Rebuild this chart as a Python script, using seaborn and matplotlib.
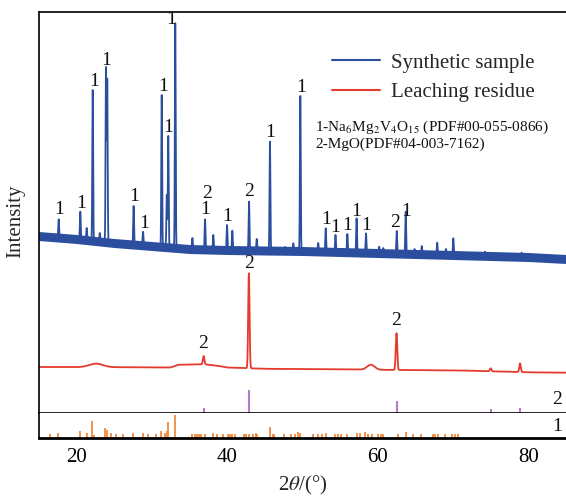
import numpy as np
import pandas as pd
import matplotlib
matplotlib.use("Agg")
import matplotlib.pyplot as plt
import seaborn as sns

# ---------------- data (intensity in arbitrary units) ----------------
blue_base_x = [15, 20, 25, 30, 35, 40, 50, 60, 70, 80, 85]
blue_base_y = [177.3, 174.3, 170.3, 167.3, 164.3, 163.3, 162.3, 160.3, 158.3, 156.3, 154.3]
blue_noise_halfwidth = 4.5

blue_peak_pos = [17.65, 20.52, 21.37, 22.17, 23.1, 23.93, 24.1, 27.6, 28.85, 31.33, 32.0, 32.2,
                 33.13, 35.4, 37.08, 38.18, 40.0, 40.7, 42.92, 43.94, 45.7, 47.7, 48.8, 49.73,
                 52.1, 53.1, 54.4, 55.97, 57.2, 58.45, 60.2, 60.75, 62.53, 63.72, 64.9, 65.85,
                 67.9, 69.07, 70.04, 74.25, 79.1, 82.9]
blue_peak_top = [194.0, 201.6, 185.3, 323.3, 180.3, 345.0, 333.3, 207.3, 181.6, 318.3, 218.3, 277.3,
                 390.0, 175.3, 194.0, 178.3, 188.3, 182.6, 211.6, 174.3, 271.6, 166.3, 170.0, 317.3,
                 170.3, 185.0, 178.3, 179.3, 195.0, 180.0, 166.6, 165.3, 182.3, 201.6, 164.3, 167.3,
                 170.6, 164.3, 175.0, 161.6, 160.6, 157.3]

red_base_x = [15, 30, 32.5, 33.5, 37, 38.8, 40, 45, 50, 55, 60, 70, 80, 85]
red_base_y = [46.3, 46.0, 45.8, 48.5, 49.0, 47.5, 45.8, 44.5, 44.3, 44.0, 43.5, 43.0, 41.0, 40.6]
red_peak_pos = [22.6, 36.9, 42.9, 59.1, 62.5, 75.0, 78.9]
red_peak_amp = [3.5, 8.3, 95.0, 5.0, 36.7, 3.0, 8.7]
red_peak_wid = [0.9, 0.1, 0.09, 0.5, 0.1, 0.1, 0.1]

mgo_pos = [36.9, 42.9, 62.5, 75.0, 78.9]
mgo_int = [5.6, 23.0, 12.3, 4.3, 5.6]

nmvo_pos = [16.5, 17.6, 20.44, 21.37, 22.1, 22.35, 23.85, 24.1, 24.6, 25.26, 26.15, 27.52, 28.8,
            29.47, 30.57, 31.19, 31.8, 32.0, 32.2, 33.05, 35.3, 35.8, 36.0, 36.3, 36.55, 37.08,
            38.1, 38.7, 39.42, 40.1, 40.4, 40.7, 41.0, 42.2, 42.5, 42.95, 43.4, 43.85, 44.0,
            45.66, 46.1, 46.3, 47.6, 48.55, 49.0, 49.4, 49.75, 51.45, 52.1, 52.57, 53.14, 54.3,
            54.7, 55.1, 55.9, 57.2, 57.6, 58.3, 58.75, 59.2, 60.1, 60.4, 60.75, 62.7, 63.75,
            64.7, 65.7, 67.4, 67.6, 68.0, 69.0, 69.8, 70.3, 70.7]
nmvo_int = [3.3, 4.3, 6.7, 4.3, 17.0, 2.7, 9.3, 8.0, 4.3, 3.3, 3.3, 4.3, 4.3,
            3.3, 3.3, 6.7, 4.3, 6.7, 15.3, 22.7, 3.3, 3.3, 3.3, 3.3, 3.3, 3.3,
            4.3, 3.3, 3.3, 3.3, 3.3, 3.3, 3.3, 3.3, 3.3, 3.3, 3.3, 4.3, 3.3,
            10.3, 3.3, 3.3, 3.3, 3.3, 3.3, 6.0, 4.3, 3.3, 3.3, 3.3, 4.3, 3.3,
            3.3, 3.3, 3.3, 4.3, 4.3, 6.0, 3.3, 3.3, 3.3, 3.3, 3.3, 3.3, 5.3,
            3.3, 3.3, 3.3, 3.3, 3.3, 3.3, 3.3, 3.3, 3.3]

# peak labels (2theta, height, text)
label_x = [17.7, 20.7, 22.4, 23.9, 27.7, 29.0, 31.5, 32.2, 32.55, 37.3, 37.1, 40.0, 42.95,
           45.7, 49.8, 53.1, 54.4, 56.0, 57.2, 58.45, 62.3, 63.75, 36.85, 42.9, 62.5]
label_y = [203.3, 210.3, 331.6, 352.6, 216.6, 190.0, 326.6, 286.0, 394.0, 220.0, 203.3, 196.6,
           221.6, 280.6, 326.0, 193.3, 186.0, 187.3, 201.6, 187.3, 190.6, 201.6, 69.3, 149.3, 92.6]
label_t = ["1", "1", "1", "1", "1", "1", "1", "1", "1", "2", "1", "1", "2",
           "1", "1", "1", "1", "1", "1", "1", "2", "1", "2", "2", "2"]

series_names = ["Synthetic sample", "Leaching residue"]
phase_notes = [r"1-Na$_6$Mg$_2$V$_4$O$_{15}$ (PDF#00-055-0866)", "2-MgO(PDF#04-003-7162)"]
x_ticks = [20, 40, 60, 80]

# ---------------- styling ----------------
sns.set_theme(style="white")
plt.rcParams["font.family"] = ["Liberation Serif", "DejaVu Serif"]
plt.rcParams["mathtext.fontset"] = "stix"

BLUE = "#2b4f9e"
RED = "#e33b2e"
PURPLE = "#b37cc4"
ORANGE = "#f28a3c"

W, H = 566, 500
fig = plt.figure(figsize=(W / 100, H / 100), dpi=100)
left = 38.7 / W
ax_top = fig.add_axes([left, (H - 413.3) / H, 1 - left, (413.3 - 11.7) / H])
ax_bot = fig.add_axes([left, (H - 437.7) / H, 1 - left, (437.7 - 413.3) / H], sharex=ax_top)

# ---------------- traces ----------------
grid = np.arange(15.0, 85.0001, 0.01)


def profile(base_x, base_y, pos, amp, wid):
    y = np.interp(grid, base_x, base_y)
    for p, a, w in zip(pos, amp, wid):
        y = y + a * np.exp(-0.5 * ((grid - p) / w) ** 2)
    return y


blue_amp = [t - np.interp(p, blue_base_x, blue_base_y) for p, t in zip(blue_peak_pos, blue_peak_top)]
blue_y = profile(blue_base_x, blue_base_y, blue_peak_pos, blue_amp, [0.055] * len(blue_peak_pos))
red_y = profile(red_base_x, red_base_y, red_peak_pos, red_peak_amp, red_peak_wid)

df = pd.concat([
    pd.DataFrame({"2theta": grid, "I": blue_y, "sample": series_names[0]}),
    pd.DataFrame({"2theta": grid, "I": red_y, "sample": series_names[1]}),
])

base_arr = np.array(blue_base_y)
ax_top.fill_between(blue_base_x, base_arr - blue_noise_halfwidth, base_arr + blue_noise_halfwidth,
                    color=BLUE, lw=0)
sns.lineplot(data=df, x="2theta", y="I", hue="sample", palette=[BLUE, RED], ax=ax_top,
             lw=1.3, estimator=None, sort=False)

ax_top.vlines(mgo_pos, 0, mgo_int, color=PURPLE, lw=1.5)
ax_bot.vlines(nmvo_pos, 0, nmvo_int, color=ORANGE, lw=1.3)

for x, y, t in zip(label_x, label_y, label_t):
    ax_top.text(x, y, t, ha="center", va="center", fontsize=14, color="#111111")

ax_top.text(83.76, 13.3, "2", ha="center", va="center", fontsize=14, color="#111111")
ax_bot.text(83.76, 11.0, "1", ha="center", va="center", fontsize=14, color="#111111")

ax_top.text(51.68, 286.3, phase_notes[0], ha="left", va="center", fontsize=11, color="#111111")
ax_top.text(51.68, 269.3, phase_notes[1], ha="left", va="center", fontsize=11, color="#111111")

# ---------------- axes ----------------
ax_top.set_xlim(15, 85)
ax_top.set_ylim(0, 413.3 - 11.7)
ax_bot.set_ylim(0, 437.7 - 413.3)

for a in (ax_top, ax_bot):
    a.set_facecolor("white")
    a.set_ylabel("")
    a.set_yticks([])
    a.spines["right"].set_visible(False)
    for s in a.spines.values():
        s.set_color("black")
        s.set_linewidth(1.2)
ax_bot.spines["top"].set_visible(False)
ax_bot.spines["bottom"].set_linewidth(2.0)

ax_top.tick_params(axis="x", bottom=False, labelbottom=False)
ax_top.set_xlabel("")
ax_bot.set_xticks(x_ticks)
ax_bot.tick_params(axis="x", direction="in", length=5, width=1.3, labelsize=15, pad=7.5,
                   colors="black")
ax_bot.set_xlabel(r"2$\theta$/(°)", fontsize=15, labelpad=5)

fig.text(16 / W, 1 - 221 / H, "Intensity", rotation=90, ha="center", va="center", fontsize=15)

leg = ax_top.legend(loc="upper left", bbox_to_anchor=((332 - 38.7) / 527.3, (413.3 - 53) / 401.6),
                    frameon=False, fontsize=15, handlelength=2.3, handletextpad=0.55,
                    labelspacing=0.48, borderpad=0, borderaxespad=0, title=None)
for line in leg.get_lines():
    line.set_linewidth(1.5)

fig.savefig("out.png", dpi=100)
